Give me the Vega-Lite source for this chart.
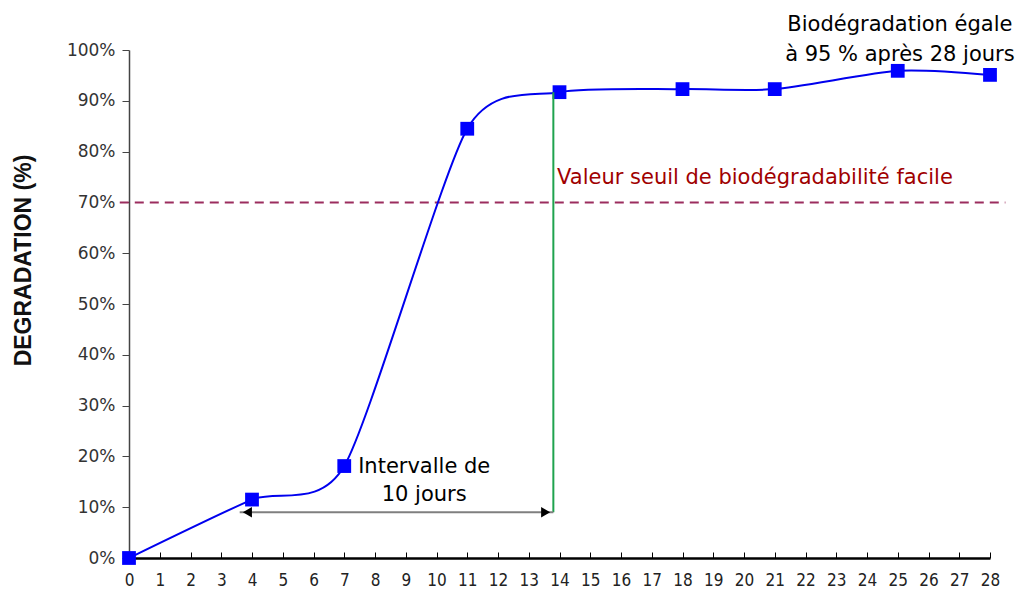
{
  "$schema": "https://vega.github.io/schema/vega-lite/v6.json",
  "width": 861,
  "height": 508,
  "autosize": {"type": "none"},
  "padding": {"left": 129, "top": 50, "right": 29, "bottom": 32},
  "background": "white",
  "config": {
    "view": {"stroke": null},
    "font": "DejaVu Sans",
    "axis": {"grid": false}
  },
  "datasets": {
    "pts": [
      {"jour": 0, "deg": 0},
      {"jour": 4, "deg": 0.115},
      {"jour": 7, "deg": 0.181},
      {"jour": 11, "deg": 0.845},
      {"jour": 14, "deg": 0.917},
      {"jour": 18, "deg": 0.923},
      {"jour": 21, "deg": 0.923},
      {"jour": 25, "deg": 0.959},
      {"jour": 28, "deg": 0.951}
    ],
    "seuil": [{"jour": -0.3, "jour2": 28.5, "deg": 0.7}],
    "vert": [{"jour": 13.8, "deg": 0.09, "deg2": 0.917}],
    "fleche": [{"jour": 3.6, "jour2": 13.8, "deg": 0.09}],
    "tetes": [
      {"jour": 3.85, "deg": 0.09, "forme": "triangle-left"},
      {"jour": 13.55, "deg": 0.09, "forme": "triangle-right"}
    ],
    "textes": [
      {"jour": 25.07, "deg": 1.049, "t": "Biodégradation égale"},
      {"jour": 25.07, "deg": 0.99, "t": "à 95 % après 28 jours"},
      {"jour": 9.6, "deg": 0.179, "t": "Intervalle de"},
      {"jour": 9.6, "deg": 0.124, "t": "10 jours"}
    ],
    "rouge": [{"jour": 13.92, "deg": 0.748, "t": "Valeur seuil de biodégradabilité facile"}]
  },
  "encoding": {
    "x": {"field": "jour", "type": "quantitative", "scale": {"domain": [0, 28], "nice": false, "zero": false},
      "axis": {"values": [0,1,2,3,4,5,6,7,8,9,10,11,12,13,14,15,16,17,18,19,20,21,22,23,24,25,26,27,28],
        "title": null, "domainColor": "#000000", "domainWidth": 2.5, "tickColor": "#000000", "tickSize": -6,
        "tickWidth": 1, "labelFont": "Liberation Sans Narrow, DejaVu Sans Condensed, Liberation Sans",
        "labelFontSize": 17, "labelColor": "#222222", "labelPadding": 20, "labelFlush": false, "labelOverlap": false}},
    "y": {"field": "deg", "type": "quantitative", "scale": {"domain": [0, 1], "nice": false},
      "axis": {"values": [0,0.1,0.2,0.3,0.4,0.5,0.6,0.7,0.8,0.9,1], "format": ".0%",
        "title": "DEGRADATION (%)", "titleFont": "Liberation Sans", "titleFontSize": 23, "titleFontWeight": "bold", "titleColor": "#111111",
        "titleY": 210, "titleX": -106, "titleAngle": -90, "titleAlign": "center", "titleBaseline": "middle",
        "domainColor": "#444444", "domainWidth": 1.5, "tickColor": "#444444", "tickSize": 7,
        "labelFont": "DejaVu Sans", "labelFontSize": 17, "labelColor": "#333333", "labelPadding": 7, "labelOverlap": false}}
  },
  "layer": [
    {
      "data": {"name": "seuil"},
      "mark": {"type": "rule", "color": "#9b2d5e", "strokeWidth": 2, "strokeDash": [9, 6], "clip": false},
      "encoding": {"x2": {"field": "jour2"}}
    },
    {
      "data": {"name": "pts"},
      "mark": {"type": "line", "interpolate": "cardinal", "tension": 0.3, "color": "#0000ee", "strokeWidth": 2, "clip": true},
      "encoding": {}
    },
    {
      "data": {"name": "pts"},
      "mark": {"type": "square", "color": "#0000ff", "opacity": 1, "filled": true, "size": 190, "clip": false},
      "encoding": {}
    },
    {
      "data": {"name": "vert"},
      "mark": {"type": "rule", "color": "#1fa34e", "strokeWidth": 2},
      "encoding": {"y2": {"field": "deg2"}}
    },
    {
      "data": {"name": "fleche"},
      "mark": {"type": "rule", "color": "#7f7f7f", "strokeWidth": 2},
      "encoding": {"x2": {"field": "jour2"}}
    },
    {
      "data": {"name": "tetes"},
      "mark": {"type": "point", "filled": true, "color": "#000000", "opacity": 1, "size": 110},
      "encoding": {"shape": {"field": "forme", "type": "nominal", "scale": null, "legend": null}}
    },
    {
      "data": {"name": "textes"},
      "mark": {"type": "text", "font": "DejaVu Sans", "fontSize": 21, "color": "#000000", "align": "center", "baseline": "middle"},
      "encoding": {"text": {"field": "t"}}
    },
    {
      "data": {"name": "rouge"},
      "mark": {"type": "text", "font": "DejaVu Sans", "fontSize": 21, "color": "#a00000", "align": "left", "baseline": "middle"},
      "encoding": {"text": {"field": "t"}}
    }
  ]
}
